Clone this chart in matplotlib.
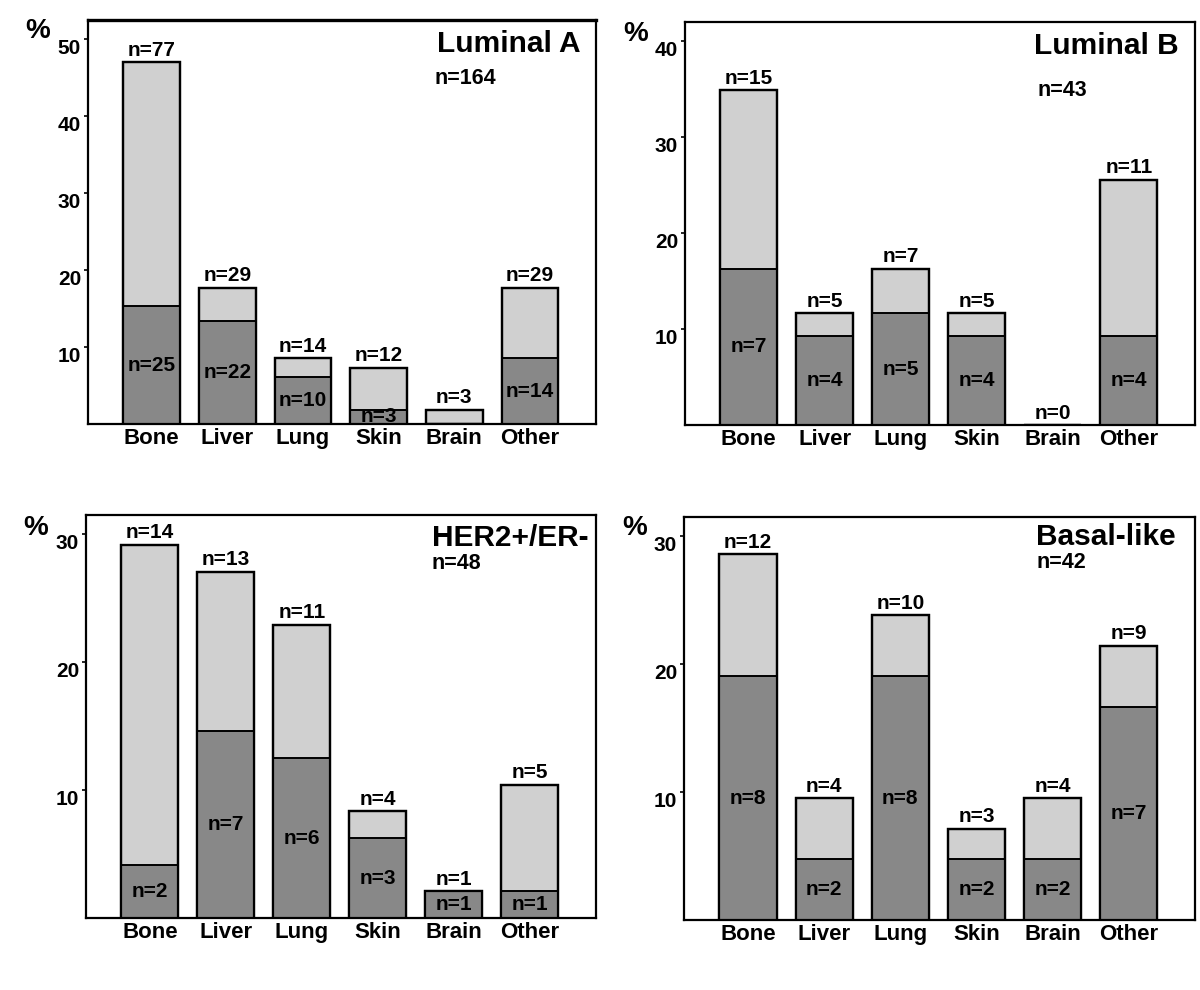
import matplotlib
matplotlib.use('Agg')
import matplotlib.pyplot as plt

# Dados dos quatro subtipos (contagens por sitio de metastase)
sitios = ['Bone', 'Liver', 'Lung', 'Skin', 'Brain', 'Other']

titulos = ['Luminal A', 'Luminal B', 'HER2+/ER-', 'Basal-like']
totais = [164, 43, 48, 42]

# n total por sitio (barra clara) e n da parte escura
lumA_total = [77, 29, 14, 12, 3, 29]
lumA_escuro = [25, 22, 10, 3, 0, 14]

lumB_total = [15, 5, 7, 5, 0, 11]
lumB_escuro = [7, 4, 5, 4, 0, 4]

her2_total = [14, 13, 11, 4, 1, 5]
her2_escuro = [2, 7, 6, 3, 1, 1]

basal_total = [12, 4, 10, 3, 4, 9]
basal_escuro = [8, 2, 8, 2, 2, 7]

yticks_painel = [[10, 20, 30, 40, 50], [10, 20, 30, 40], [10, 20, 30], [10, 20, 30]]

# Layout (posicoes em fracao da figura) e limites
posicoes = [
    [0.0733, 0.5717, 0.4233, 0.4081],
    [0.5708, 0.5707, 0.4250, 0.4071],
    [0.0717, 0.0727, 0.4250, 0.4071],
    [0.5700, 0.0707, 0.4258, 0.4071],
]
ylims = [52.4, 42.0, 31.5, 31.5]
pos_titulo = [(0.969, 0.94), (0.967, 0.94), (0.985, 0.943), (0.963, 0.95)]
pos_n = [(0.683, 0.856), (0.692, 0.83), (0.678, 0.88), (0.689, 0.886)]
pos_pct = [(0.031, 0.969), (0.530, 0.966), (0.030, 0.467), (0.529, 0.467)]

CLARO = '#d0d0d0'
ESCURO = '#888888'
FONTE = 'Liberation Sans'


def desenhar_painel(fig, i, total, escuro):
    ax = fig.add_axes(posicoes[i])
    N = totais[i]
    pct_total = [v / N * 100 for v in total]
    pct_escuro = [v / N * 100 for v in escuro]
    x = list(range(len(sitios)))

    ax.bar(x, pct_total, width=0.75, color=CLARO, edgecolor='black', linewidth=1.6, zorder=2)
    ax.bar(x, pct_escuro, width=0.75, color=ESCURO, edgecolor='black', linewidth=1.4, zorder=3)
    # redesenha o contorno por cima
    ax.bar(x, pct_total, width=0.75, color='none', edgecolor='black', linewidth=1.6, zorder=4)

    ymax = ylims[i]
    for xi, t, e, nt, ne in zip(x, pct_total, pct_escuro, total, escuro):
        ax.text(xi, t + ymax * 0.006, f'n={nt}', ha='center', va='bottom',
                fontsize=15, fontweight='bold', family=FONTE, zorder=5)
        if ne > 0:
            ax.text(xi, e / 2, f'n={ne}', ha='center', va='center',
                    fontsize=15, fontweight='bold', family=FONTE, zorder=5)

    ax.set_xlim(-0.84, 5.87)
    ax.set_ylim(0, ymax)
    ax.set_xticks(x)
    ax.set_xticklabels(sitios, fontsize=16, fontweight='bold', family=FONTE)
    ax.tick_params(axis='x', length=0, pad=3)
    ax.set_yticks(yticks_painel[i])
    ax.set_yticklabels([str(v) for v in yticks_painel[i]], fontsize=15,
                       fontweight='bold', family=FONTE, va='top')
    ax.tick_params(axis='y', length=3, width=1.2, direction='out', pad=2)

    for s in ax.spines.values():
        s.set_linewidth(1.6)
    if i == 0:
        ax.spines['top'].set_linewidth(2.4)

    tx, ty = pos_titulo[i]
    ax.text(tx, ty, titulos[i], transform=ax.transAxes, ha='right', va='center',
            fontsize=21.5, fontweight='bold', family=FONTE)
    nx, ny = pos_n[i]
    ax.text(nx, ny, f'n={N}', transform=ax.transAxes, ha='left', va='center',
            fontsize=15.5, fontweight='bold', family=FONTE)
    px, py = pos_pct[i]
    fig.text(px, py, '%', ha='center', va='center', fontsize=20,
             fontweight='bold', family=FONTE)
    return ax


def main():
    fig = plt.figure(figsize=(12, 9.9), dpi=100)
    dados = [
        (lumA_total, lumA_escuro),
        (lumB_total, lumB_escuro),
        (her2_total, her2_escuro),
        (basal_total, basal_escuro),
    ]
    for i, (total, escuro) in enumerate(dados):
        desenhar_painel(fig, i, total, escuro)
    fig.savefig('out.png', dpi=100)


if __name__ == "__main__":
    main()
